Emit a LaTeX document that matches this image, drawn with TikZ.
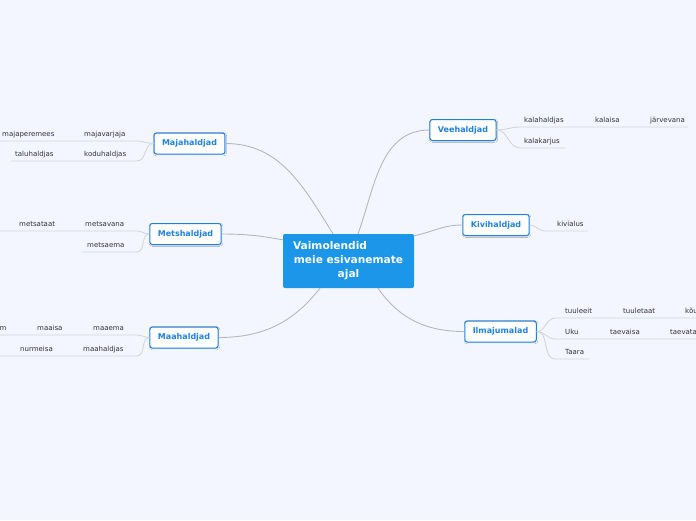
\documentclass[tikz,border=0pt]{standalone}
\usepackage{fontspec}
\setmainfont{DejaVu Sans}
\usepackage{xcolor}
\usepackage{tikz}
\usetikzlibrary{positioning,shadows.blur}
\definecolor{bgcol}{RGB}{243,246,254}
\definecolor{rootblue}{RGB}{27,150,232}
\definecolor{topicblue}{RGB}{30,128,228}
\definecolor{branchgray}{RGB}{178,184,194}
\definecolor{twiggray}{RGB}{210,214,222}
\definecolor{leaftext}{RGB}{50,50,56}

\begin{document}
\begin{tikzpicture}[
    x=1pt, y=-1pt,
    root/.style={fill=rootblue, rounded corners=2pt, text=white, align=center,
        font=\fontsize{10.6}{14}\selectfont\bfseries, minimum width=131pt, minimum height=54pt, inner sep=0pt},
    topic/.style={draw=topicblue, line width=1pt, fill=white, rounded corners=2.5pt, text=topicblue,
        font=\fontsize{8}{9.6}\selectfont\bfseries, minimum height=21pt, inner xsep=8pt,
        blur shadow={shadow xshift=0.5pt, shadow yshift=-0.7pt, shadow blur radius=1.2pt, shadow blur steps=5, shadow opacity=14}},
    leaf/.style={anchor=base west, inner sep=0pt, text=leaftext, font=\fontsize{7}{8}\selectfont},
    branch/.style={draw=branchgray, line width=0.9pt},
    twig/.style={draw=twiggray, line width=0.9pt}
]

\useasboundingbox (0,0) rectangle (696,520);
\fill[bgcol] (0,0) rectangle (696,520);
\clip (0,0) rectangle (696,520);

% centre and main topics
\node[root] (root) at (348.5,261) {Vaimolendid\hspace*{37pt}\\meie esivanemate\\ajal};

\node[topic] (majahaldjad) at (189.5,143.5) {Majahaldjad};
\node[topic] (metshaldjad) at (185.5,234) {Metshaldjad};
\node[topic] (maahaldjad)  at (184,337.5) {Maahaldjad};
\node[topic] (veehaldjad)  at (463,130) {Veehaldjad};
\node[topic] (kivihaldjad) at (496,225) {Kivihaldjad};
\node[topic] (ilmajumalad) at (500.5,331.5) {Ilmajumalad};

\draw[branch] ([xshift=-15.5pt]root.north) to[out=122,in=0] (majahaldjad.east);
\draw[branch] ([yshift=-6pt]root.north west) to[out=170,in=0] (metshaldjad.east);
\draw[branch] ([xshift=-28.5pt]root.south) to[out=-128,in=0] (maahaldjad.east);
\draw[branch] ([xshift=9.5pt]root.north) to[out=70,in=180] (veehaldjad.west);
\draw[branch] ([yshift=-2pt]root.north east) to[out=12,in=180] (kivihaldjad.west);
\draw[branch] ([xshift=29.5pt]root.south) to[out=-55,in=180] (ilmajumalad.west);

% Majahaldjad
\coordinate (majavarjaja-e) at (137,141);
\coordinate (majavarjaja-w) at (80,141);
\coordinate (majaperemees-w) at (-5,141);
\coordinate (koduhaldjas-e) at (137,161);
\coordinate (koduhaldjas-w) at (80,161);
\coordinate (taluhaldjas-w) at (11,161);
\node[leaf] (majavarjaja)  at (84,136) {majavarjaja};
\node[leaf] (majaperemees) at (2,136) {majaperemees};
\node[leaf] (koduhaldjas)  at (84,156) {koduhaldjas};
\node[leaf] (taluhaldjas)  at (15,156) {taluhaldjas};
\draw[twig] (majahaldjad.west) to[out=180,in=0] (majavarjaja-e) -- (majavarjaja-w) -- (majaperemees-w);
\draw[twig] (majahaldjad.west) to[out=180,in=0] (koduhaldjas-e) -- (koduhaldjas-w) -- (taluhaldjas-w);

% Metshaldjad
\coordinate (metsavana-e) at (137,231);
\coordinate (metsavana-w) at (81,231);
\coordinate (metsataat-w) at (-5,231);
\coordinate (metsaema-e) at (137,252);
\coordinate (metsaema-w) at (82,252);
\node[leaf] (metsavana) at (85,226) {metsavana};
\node[leaf] (metsataat) at (19,226) {metsataat};
\node[leaf] (metsaema)  at (87,247) {metsaema};
\draw[twig] (metshaldjad.west) to[out=180,in=0] (metsavana-e) -- (metsavana-w) -- (metsataat-w);
\draw[twig] (metshaldjad.west) to[out=180,in=0] (metsaema-e) -- (metsaema-w);

% Maahaldjad
\coordinate (maaema-e) at (137,335);
\coordinate (maaema-w) at (67,335);
\coordinate (maaisa-w) at (10,335);
\coordinate (m-w) at (-5,335);
\coordinate (maahaldjas-e) at (137,356);
\coordinate (maahaldjas-w) at (68,356);
\coordinate (nurmeisa-w) at (-5,356);
\node[leaf] (maaema)     at (93,330) {maaema};
\node[leaf] (maaisa)     at (37,330) {maaisa};
\node[leaf] (m)          at (-0.5,330) {m};
\node[leaf] (maahaldjas) at (83,351) {maahaldjas};
\node[leaf] (nurmeisa)   at (20,351) {nurmeisa};
\draw[twig] (maahaldjad.west) to[out=180,in=0] (maaema-e) -- (maaema-w) -- (maaisa-w) -- (m-w);
\draw[twig] (maahaldjad.west) to[out=180,in=0] (maahaldjas-e) -- (maahaldjas-w) -- (nurmeisa-w);

% Veehaldjad
\coordinate (kalahaldjas-w) at (520,127);
\coordinate (kalahaldjas-e) at (590,127);
\coordinate (kalaisa-e) at (624,127);
\coordinate (jarvevana-e) at (688,127);
\coordinate (kalakarjus-w) at (520,148);
\coordinate (kalakarjus-e) at (565,148);
\node[leaf] (kalahaldjas) at (524,122) {kalahaldjas};
\node[leaf] (kalaisa)     at (595,122) {kalaisa};
\node[leaf] (jarvevana)   at (650,122) {järvevana};
\node[leaf] (kalakarjus)  at (524,143) {kalakarjus};
\draw[twig] (veehaldjad.east) to[out=0,in=180] (kalahaldjas-w) -- (kalahaldjas-e) -- (kalaisa-e) -- (jarvevana-e);
\draw[twig] (veehaldjad.east) to[out=0,in=180] (kalakarjus-w) -- (kalakarjus-e);

% Kivihaldjad
\coordinate (kivialus-w) at (545,231);
\coordinate (kivialus-e) at (588,231);
\node[leaf] (kivialus) at (557,226) {kivialus};
\draw[twig] (kivihaldjad.east) to[out=0,in=180] (kivialus-w) -- (kivialus-e);

% Ilmajumalad
\coordinate (tuuleeit-w) at (555,318);
\coordinate (tuuleeit-e) at (600,318);
\coordinate (tuuletaat-e) at (662,318);
\coordinate (kou-e) at (700,318);
\coordinate (uku-w) at (555,339);
\coordinate (uku-e) at (590,339);
\coordinate (taevaisa-e) at (650,339);
\coordinate (taevata-e) at (700,339);
\coordinate (taara-w) at (555,359);
\coordinate (taara-e) at (589,359);
\node[leaf] (tuuleeit)  at (565,313) {tuuleeit};
\node[leaf] (tuuletaat) at (623,313) {tuuletaat};
\node[leaf] (kou)       at (685,313) {kõu};
\node[leaf] (uku)       at (565,334) {Uku};
\node[leaf] (taevaisa)  at (610,334) {taevaisa};
\node[leaf] (taevata)   at (670,334) {taevata};
\node[leaf] (taara)     at (565,354) {Taara};
\draw[twig] (ilmajumalad.east) to[out=0,in=180] (tuuleeit-w) -- (tuuleeit-e) -- (tuuletaat-e) -- (kou-e);
\draw[twig] (ilmajumalad.east) to[out=0,in=180] (uku-w) -- (uku-e) -- (taevaisa-e) -- (taevata-e);
\draw[twig] (ilmajumalad.east) to[out=0,in=180] (taara-w) -- (taara-e);

\end{tikzpicture}
\end{document}
